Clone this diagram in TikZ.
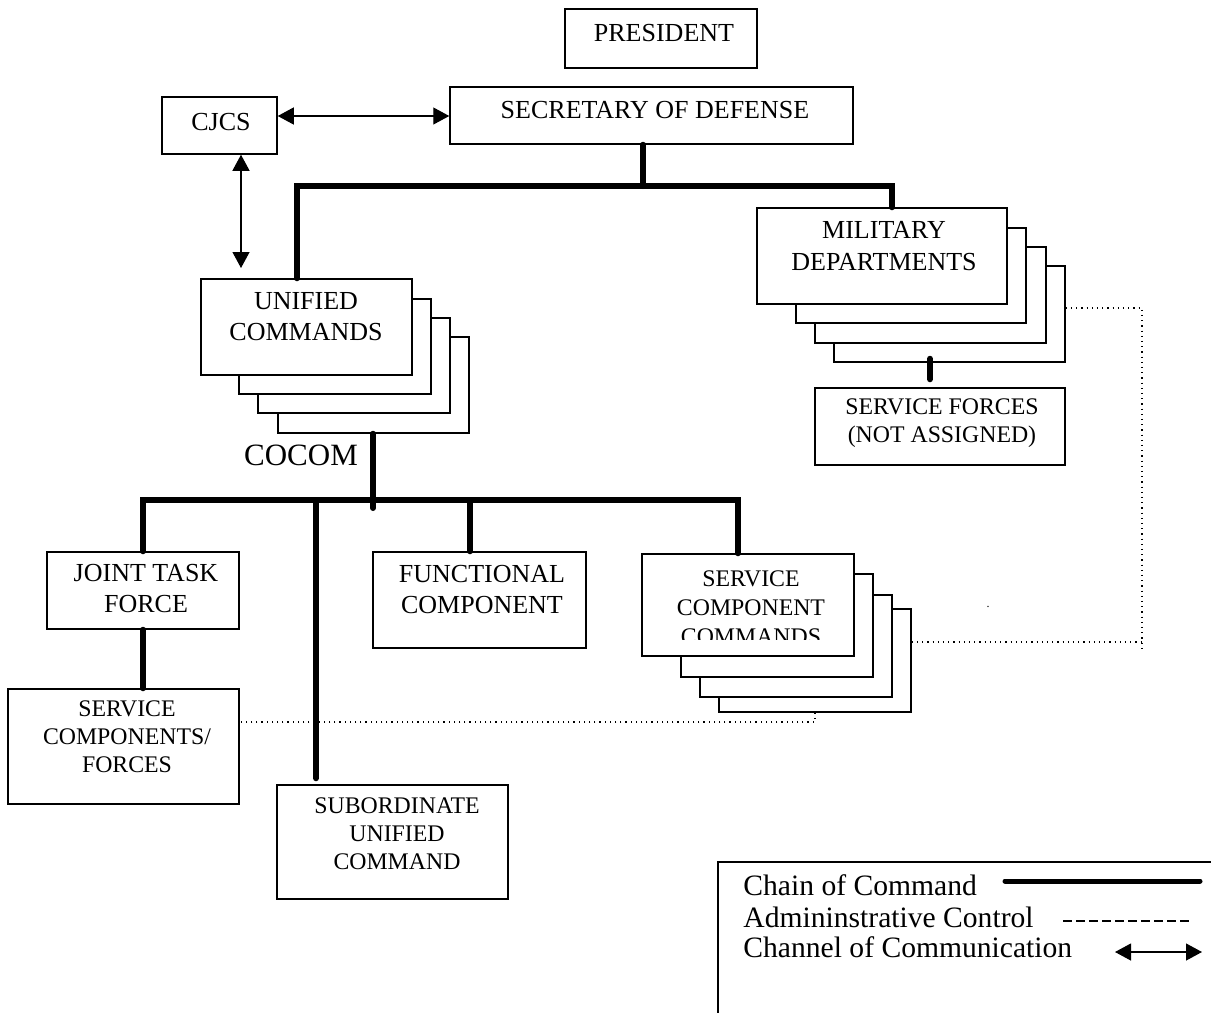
\documentclass[tikz,border=0pt]{standalone}
\usepackage{fontspec}
\setmainfont{Liberation Serif}
\usetikzlibrary{arrows.meta,positioning,calc}

\begin{document}
\begin{tikzpicture}[
  x=0.5pt, y=-0.5pt,
  box/.style={draw, line width=0.75pt, fill=white, inner sep=0pt},
  wh/.style 2 args={minimum width={#1*0.5pt}, minimum height={#2*0.5pt}},
  lbl/.style={align=center, inner sep=0pt, font=\fontsize{13}{15.5}\selectfont},
  slbl/.style={align=center, inner sep=0pt, font=\fontsize{11.9}{14}\selectfont},
  leg/.style={inner sep=0pt, font=\fontsize{14.8}{17}\selectfont},
  cmd/.style={line width=3pt, line cap=round},
  admin/.style={line width=0.6pt, dotted},
  comm/.style={{Triangle[length=8pt,width=8.5pt]}-{Triangle[length=8pt,width=8.5pt]}, line width=0.6pt}
]
\useasboundingbox (0,0) rectangle (1211,1013);

% top of the chain
\node[box, wh={192}{59}] (pres) at (661,38.5) {};
\node[lbl] (pres-t) at (664,33) {PRESIDENT};
\node[box, wh={403}{57}] (secdef) at (651.5,115.5) {};
\node[lbl] (secdef-t) at (655,110) {SECRETARY OF DEFENSE};
\node[box, wh={115}{57}] (cjcs) at (219.5,125.5) {};
\node[lbl] (cjcs-t) at (221,122) {CJCS};

% unified commands (stacked sheets)
\node[box, wh={191}{96}] (uc4) at (373.5,385) {};
\node[box, wh={192}{95}] (uc3) at (354,365.5) {};
\node[box, wh={192}{95}] (uc2) at (335,346.5) {};
\node[box, wh={211}{96}] (uc) at (306.5,327) {};
\node[lbl] (uc-t) at (306,317) {UNIFIED\\COMMANDS};
\node[inner sep=0pt, font=\fontsize{15.5}{18}\selectfont] (cocom) at (301,455) {COCOM};

% military departments (stacked sheets)
\node[box, wh={231}{96}] (mil4) at (949.5,314) {};
\node[box, wh={231}{96}] (mil3) at (930.5,295) {};
\node[box, wh={230}{95}] (mil2) at (911,275.5) {};
\node[box, wh={250}{96}] (mil) at (882,256) {};
\node[lbl, font=\fontsize{13}{16}\selectfont] (mil-t) at (884,246) {MILITARY\\DEPARTMENTS};
\node[box, wh={250}{77}] (sf) at (940,426.5) {};
\node[slbl] (sf-t) at (942,423) {SERVICE FORCES\\(NOT ASSIGNED)};

% under the COCOM
\node[box, wh={192}{77}] (jtf) at (143,590.5) {};
\node[lbl] (jtf-t) at (146,589) {JOINT TASK\\FORCE};
\node[box, wh={231}{115}] (scf) at (123.5,746.5) {};
\node[slbl] (scf-t) at (127,737) {SERVICE\\COMPONENTS/\\FORCES};
\node[box, wh={213}{96}] (func) at (479.5,600) {};
\node[lbl] (func-t) at (482,590) {FUNCTIONAL\\COMPONENT};
\node[box, wh={231}{114}] (subord) at (392.5,842) {};
\node[slbl] (subord-t) at (397,834) {SUBORDINATE\\UNIFIED\\COMMAND};

% service component commands (stacked sheets)
\node[box, wh={192}{103}] (scc4) at (815,660.5) {};
\node[box, wh={192}{102}] (scc3) at (796,646) {};
\node[box, wh={192}{103}] (scc2) at (777,625.5) {};
\node[box, wh={212}{102}] (scc) at (748,605) {};
\begin{scope}
  \clip (642,554) rectangle (854,639);
  \node[slbl, font=\fontsize{11.9}{14.6}\selectfont] (scc-t) at (751,608) {SERVICE\\COMPONENT\\COMMANDS};
\end{scope}
\node[inner sep=0pt, font=\fontsize{6}{6}\selectfont] (stray) at (988,607) {.};

% chain of command
\coordinate (bus1) at (643,186);
\coordinate (bus2) at (373,500);
\draw[cmd] (secdef.south -| bus1) -- (bus1);
\draw[cmd] (uc.north -| 297,0) |- (bus1) -| (mil.north -| 892,0);
\draw[cmd] (uc4.south -| bus2) -- ([yshift=-4pt]bus2);
\draw[cmd] (jtf.north) |- (bus2) -| (scc.north -| 738,0);
\draw[cmd] (bus2 -| 470,0) -- (func.north -| 470,0);
\draw[cmd, shorten >=3pt] (bus2 -| 316,0) -- (subord.north -| 316,0);
\draw[cmd] (jtf.south) -- (scf.north -| jtf.south);
\draw[cmd, shorten <=-2pt, shorten >=4pt] (mil4.south -| 930,0) -- (sf.north -| 930,0);

% channels of communication
\coordinate (cj-a) at (cjcs.east |- 0,116);
\coordinate (cj-b) at (241,268);
\draw[comm] (cj-a) -- (cj-a -| secdef.west);
\draw[comm] (cjcs.south -| cj-b) -- (cj-b);

% administrative control
\coordinate (adm-r) at (1142,642);
\draw[admin] (scc4.south) -- (scc4.south |- 0,722) -- (scf.east |- 0,722);
\draw[admin] (mil4.east |- 0,308) -| ([yshift=-4pt]adm-r);
\draw[admin] (scc4.east |- adm-r) -- (adm-r);

% legend
\draw[line width=0.75pt] (1211,862) -- (718,862) -- (718,1013);
\node[leg, anchor=base west] (leg-cmd) at (743,895) {Chain of Command};
\node[leg, anchor=base west] (leg-adm) at (743,927) {Admininstrative Control};
\node[leg, anchor=base west] (leg-com) at (743,957) {Channel of Communication};
\draw[cmd, line width=2.5pt] (1005,881) -- (1200,881);
\draw[line width=0.65pt, dash pattern=on 4.5pt off 2pt] (1063,921) -- (1193,921);
\draw[comm] (1115,952) -- (1202,952);
\end{tikzpicture}
\end{document}
